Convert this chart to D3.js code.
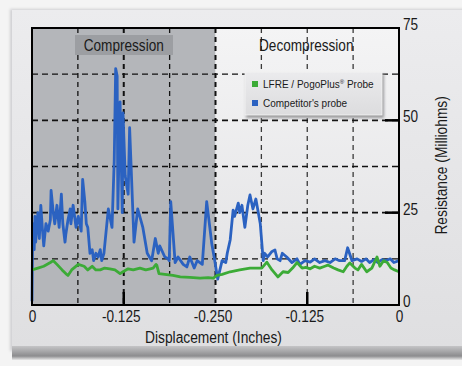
<!DOCTYPE html>
<html>
<head>
<meta charset="utf-8">
<script src="https://d3js.org/d3.v7.min.js"></script>
<style>
  html, body { margin: 0; padding: 0; background: #f4f4f4; }
  svg { display: block; }
  text { font-family: "Liberation Sans", Arial, sans-serif; fill: #1a1a1a; }
</style>
</head>
<body>
<svg id="chart" width="462" height="366"></svg>
<script>
// Data: travel in thousandths of an inch (0 = start, 250 = full compression, 500 = back to start)
var competitorTravel = [0, 1, 3, 4, 5, 8, 10, 12, 14, 16, 19, 22, 25, 26, 29, 31, 34, 37, 40, 42,
  45, 46, 49, 52, 53, 56, 60, 63, 67, 69, 72, 74, 76, 79, 82, 84, 87, 90, 93, 95, 98, 101, 104,
  106, 109, 112, 114, 116, 117, 120, 123, 124, 127, 131, 133, 139, 144, 151, 157, 163, 168, 172,
  174, 181, 185, 187, 189, 195, 199, 206, 211, 215, 221, 225, 232, 238, 245, 249, 253, 259, 264,
  266, 270, 274, 276, 281, 283, 286, 290, 294, 297, 301, 305, 311, 315, 317, 321, 327, 331, 334,
  338, 341, 347, 354, 361, 365, 372, 379, 385, 392, 399, 406, 413, 419, 426, 430, 436, 443, 449,
  455, 460, 466, 471, 477, 482, 488, 493, 500];
var competitorOhms = [1, 22, 15, 24, 17, 25, 18, 27, 21, 16, 22, 20, 23, 31, 25, 22, 27, 21, 30, 22,
  17, 19, 23, 26, 22, 27, 21, 24, 20, 34, 28, 22, 21, 14, 15, 12, 14, 13, 15, 12, 14, 20, 26,
  24, 21, 39, 64, 62, 26, 55, 25, 52, 35, 30, 48, 17, 26, 21, 14, 12, 18, 14, 16, 13,
  12.6, 12, 28, 11.5, 13, 11, 10.3, 13, 10, 12, 11, 28, 16.5, 12, 7, 12, 11.5, 14,
  17.6, 25.7, 24, 27.6, 25, 27, 21, 27, 29.8, 26, 28.7, 22, 12, 14, 13, 14.5, 14.9, 12.5, 12,
  14, 13, 11.5, 12.5, 11, 12, 11.6, 12.5, 11.5, 12, 11.5, 12.5, 12, 12, 15.5, 12, 12.5, 11.8, 12.5,
  11.5, 12.3, 11.5, 12.3, 12, 12.5, 11.5, 12, 10.5];
var lfreTravel = [0, 8, 16, 25, 29, 34, 41, 46, 49, 54, 63, 71, 76, 82, 87, 93, 99, 106, 113, 120,
  124, 131, 138, 147, 155, 161, 165, 169, 170, 173, 181, 192, 202, 215, 229, 240, 247, 252, 259,
  270, 283, 297, 308, 313, 320, 327, 335, 342, 349, 355, 361, 368, 373, 379, 385, 392, 399, 403,
  411, 417, 424, 429, 433, 440, 444, 449, 456, 463, 470, 474, 479, 484, 489, 494, 500];
var lfreOhms = [9.5, 10, 10.5, 11.5, 12, 11, 9.5, 8.5, 8, 9.5, 11, 10.5, 9.5, 10.5, 9.5, 9.5, 10, 9.8,
  9.5, 8.5, 9, 9.8, 9.5, 10, 9.5, 9.8, 10, 11, 10.8, 8.5, 8.3, 8, 7.6, 7.5, 7.3, 7.4, 7.3, 8, 8.3,
  9, 9.5, 10, 10, 10, 11.6, 9.5, 7.6, 9, 8.8, 10, 11.5, 10, 10.2, 9.8, 10.5, 10, 10.5, 10.8,
  10, 9.5, 9, 10.5, 11.4, 10, 9.5, 11, 9, 10, 13, 10.5, 12, 11.5, 10, 9.5, 9];

var xTickValues = [0, 125, 250, 375, 500],
    xTickLabels = ['0', '-0.125', '-0.250', '-0.125', '0'],
    yTickValues = [0, 25, 50, 75],
    phaseNames = ['Compression', 'Decompression'],
    seriesNames = ['LFRE / PogoPlus', "Competitor's probe"];

var svg = d3.select('#chart'),
    defs = svg.append('defs');

// the original uses a condensed face; squeeze regular glyphs to match
function condense(selection, k) {
  selection.each(function() {
    var len = this.getComputedTextLength();
    d3.select(this).attr('textLength', len * k).attr('lengthAdjust', 'spacingAndGlyphs');
  });
}

// Scales //////////////////////////////////////////////////////////////////////
var x = d3.scaleLinear().domain([0, 500]).range([32, 399]);
var y = d3.scaleLinear().domain([0, 75]).range([305, 28]);

// Card background /////////////////////////////////////////////////////////////
var g1 = defs.append('linearGradient').attr('id', 'card').attr('x1', 0).attr('y1', 0).attr('x2', 0).attr('y2', 1);
g1.append('stop').attr('offset', '0%').attr('stop-color', '#ececee');
g1.append('stop').attr('offset', '100%').attr('stop-color', '#dfdfe1');
var g2 = defs.append('linearGradient').attr('id', 'bevel').attr('x1', 0).attr('y1', 0).attr('x2', 0).attr('y2', 1);
g2.append('stop').attr('offset', '0%').attr('stop-color', '#e4e4e6');
g2.append('stop').attr('offset', '45%').attr('stop-color', '#b4b4b6');
g2.append('stop').attr('offset', '80%').attr('stop-color', '#8c8c8e');
g2.append('stop').attr('offset', '100%').attr('stop-color', '#e8e8e8');
var g3 = defs.append('linearGradient').attr('id', 'decomp').attr('x1', 0).attr('y1', 0).attr('x2', 0).attr('y2', 1);
g3.append('stop').attr('offset', '0%').attr('stop-color', '#f4f4f5');
g3.append('stop').attr('offset', '100%').attr('stop-color', '#e2e2e4');
var g4 = defs.append('linearGradient').attr('id', 'legendbg').attr('x1', 0).attr('y1', 0).attr('x2', 0).attr('y2', 1);
g4.append('stop').attr('offset', '0%').attr('stop-color', '#ebebed');
g4.append('stop').attr('offset', '100%').attr('stop-color', '#dcdcde');
var blur = defs.append('filter').attr('id', 'soft').attr('x', '-10%').attr('y', '-10%').attr('width', '130%').attr('height', '140%');
blur.append('feGaussianBlur').attr('stdDeviation', 1.5);

svg.append('rect').attr('width', 462).attr('height', 366).attr('fill', '#f4f4f4');
svg.append('rect').attr('x', 10).attr('y', 9).attr('width', 460).attr('height', 342)
  .attr('fill', '#cfcfd1').attr('filter', 'url(#soft)');
svg.append('rect').attr('x', 12).attr('y', 340).attr('width', 452).attr('height', 20).attr('fill', 'url(#bevel)');
svg.append('rect').attr('x', 12).attr('y', 10).attr('width', 452).attr('height', 336).attr('fill', 'url(#card)');

// Plot regions ////////////////////////////////////////////////////////////////
svg.append('rect').attr('x', x(0)).attr('y', y(75)).attr('width', x(250) - x(0)).attr('height', y(0) - y(75))
  .attr('fill', '#b4b6ba');
svg.append('rect').attr('x', x(250)).attr('y', y(75)).attr('width', x(500) - x(250)).attr('height', y(0) - y(75))
  .attr('fill', 'url(#decomp)');

// Grid ////////////////////////////////////////////////////////////////////////
var grid = svg.append('g').attr('class', 'grid');
d3.range(62.5, 500, 62.5).forEach(function(v) {
  var major = v === 125 || v === 250;
  grid.append('line').attr('x1', x(v)).attr('x2', x(v)).attr('y1', y(75)).attr('y2', y(0))
    .attr('stroke', v <= 250 ? '#111' : '#3a3a3a').attr('stroke-width', major ? 2 : 1.3)
    .attr('stroke-dasharray', '5,4');
});
d3.range(12.5, 75, 12.5).forEach(function(v) {
  var major = v === 25 || v === 50;
  grid.append('line').attr('x1', x(0)).attr('x2', x(500)).attr('y1', y(v)).attr('y2', y(v))
    .attr('stroke', '#111').attr('stroke-width', major ? 1.8 : 1.3)
    .attr('stroke-dasharray', '6,4');
});

// Phase labels ////////////////////////////////////////////////////////////////
svg.append('rect').attr('x', 75).attr('y', 35).attr('width', 98).attr('height', 20).attr('fill', '#9c9ea2');
svg.append('text').attr('x', x(125)).attr('y', 51).attr('text-anchor', 'middle')
  .style('font-size', '16px').text(phaseNames[0]).call(condense, 0.85);
svg.append('text').attr('x', x(375) - 1).attr('y', 51).attr('text-anchor', 'middle')
  .style('font-size', '16px').text(phaseNames[1]).call(condense, 0.85);

// Lines ///////////////////////////////////////////////////////////////////////
var competitor = competitorTravel.map(function(t, i) { return [t, competitorOhms[i]] });
var lfre = lfreTravel.map(function(t, i) { return [t, lfreOhms[i]] });
var line = d3.line().x(function(d) { return x(d[0]) }).y(function(d) { return y(d[1]) });

svg.append('path').datum(competitor).attr('d', line).attr('fill', 'none')
  .attr('stroke', '#2b62c1').attr('stroke-width', 2.8).attr('stroke-linejoin', 'round');
svg.append('path').datum(lfre).attr('d', line).attr('fill', 'none')
  .attr('stroke', '#3cab37').attr('stroke-width', 2.8).attr('stroke-linejoin', 'round');

// Frame and ticks /////////////////////////////////////////////////////////////
svg.append('rect').attr('x', x(0)).attr('y', y(75)).attr('width', x(500) - x(0)).attr('height', y(0) - y(75))
  .attr('fill', 'none').attr('stroke', '#000').attr('stroke-width', 2);
[125, 375].forEach(function(v) {
  svg.append('line').attr('x1', x(v)).attr('x2', x(v)).attr('y1', y(0)).attr('y2', y(0) - 13)
    .attr('stroke', '#000').attr('stroke-width', 2.5);
});
[25, 50].forEach(function(v) {
  svg.append('line').attr('x1', x(500) - 14).attr('x2', x(500)).attr('y1', y(v)).attr('y2', y(v))
    .attr('stroke', '#000').attr('stroke-width', 2.5);
});

// Axes ////////////////////////////////////////////////////////////////////////
var xAxis = d3.axisBottom(x).tickValues(xTickValues).tickSize(0).tickPadding(6)
  .tickFormat(function(d, i) { return xTickLabels[i] });
var gx = svg.append('g').attr('transform', 'translate(0,' + y(0) + ')').call(xAxis);
gx.select('.domain').remove();
gx.selectAll('text').style('font-size', '16px').style('font-family', null).attr('fill', '#1a1a1a')
  .attr('dx', function(d, i) { return xTickLabels[i].charAt(0) === '-' ? -3 : 0 })
  .call(condense, 0.85);

var yAxis = d3.axisRight(y).tickValues(yTickValues).tickSize(0).tickPadding(4);
var gy = svg.append('g').attr('transform', 'translate(' + x(500) + ',0)').call(yAxis);
gy.select('.domain').remove();
gy.selectAll('text').style('font-size', '16px').style('font-family', null).attr('fill', '#1a1a1a')
  .attr('dy', '0.1em').call(condense, 0.85);

svg.append('text').attr('x', x(250) - 2).attr('y', 343).attr('text-anchor', 'middle')
  .style('font-size', '16px').text('Displacement (Inches)').call(condense, 0.86);
svg.append('text').attr('transform', 'translate(447,' + y(37.8) + ') rotate(-90)').attr('text-anchor', 'middle')
  .style('font-size', '16px').text('Resistance (Milliohms)').call(condense, 0.86);

// Legend //////////////////////////////////////////////////////////////////////
var legend = svg.append('g').attr('transform', 'translate(245,72)');
legend.append('rect').attr('x', 1).attr('y', 2).attr('width', 138).attr('height', 44)
  .attr('fill', '#9a9a9c').attr('filter', 'url(#soft)');
legend.append('rect').attr('width', 137).attr('height', 43).attr('fill', 'url(#legendbg)')
  .attr('stroke', '#f4f4f4').attr('stroke-width', 0.8);
var colors = ['#3cab37', '#2b62c1'];
seriesNames.forEach(function(name, i) {
  legend.append('rect').attr('x', 7).attr('y', 9 + i * 19).attr('width', 6).attr('height', 6).attr('fill', colors[i]);
  var t = legend.append('text').attr('x', 18).attr('y', 16 + i * 19)
    .style('font-size', '10px').text(name);
  if (i === 0) {
    t.append('tspan').attr('dy', -4).style('font-size', '6px').text('\u00AE');
    t.append('tspan').attr('dy', 4).text(' Probe');
  }
});
</script>
</body>
</html>
